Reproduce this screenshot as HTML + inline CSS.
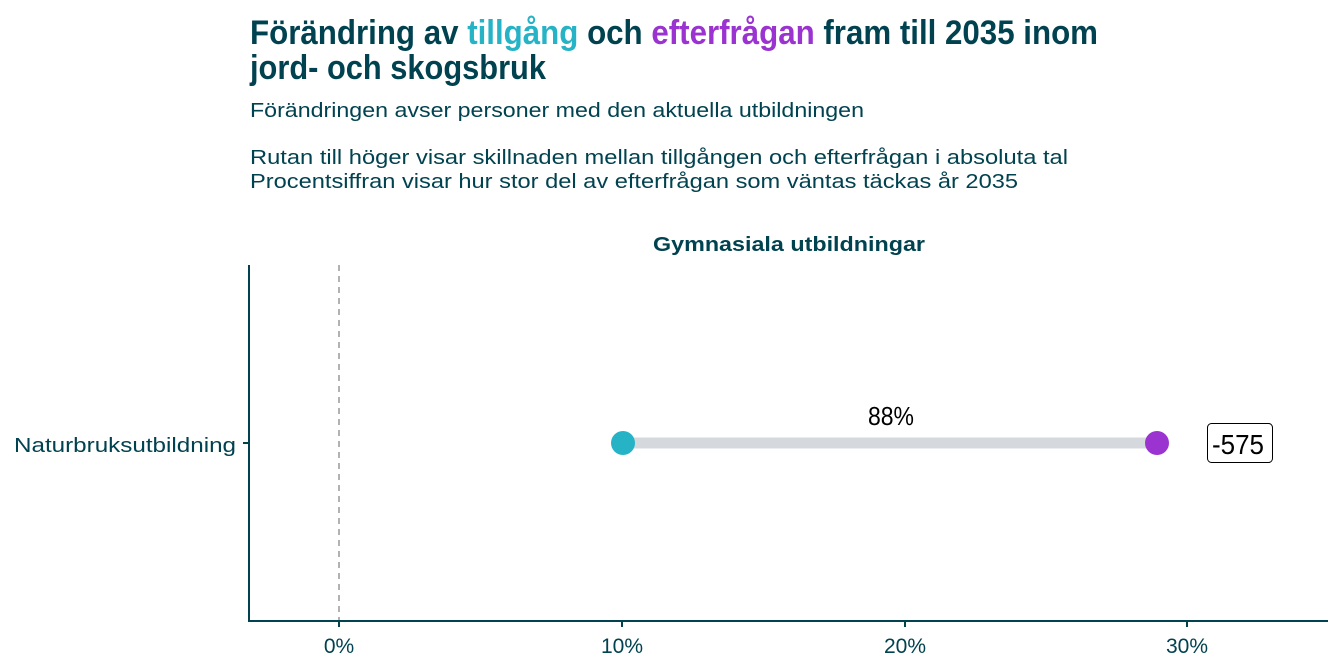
<!DOCTYPE html>
<html><head><meta charset="utf-8"><style>
html,body{margin:0;padding:0;background:#fff;}
svg{display:block;}
text{font-family:"Liberation Sans Narrow","Liberation Sans",sans-serif;}
</style></head><body>
<svg width="1344" height="672" viewBox="0 0 1344 672" xmlns="http://www.w3.org/2000/svg">
<text x="250" y="44" font-size="34" font-weight="bold" fill="#00424f" textLength="848" lengthAdjust="spacingAndGlyphs">Förändring av <tspan fill="#26b3c6">tillgång</tspan> och <tspan fill="#9a33cf">efterfrågan</tspan> fram till 2035 inom</text>
<text x="250" y="79" font-size="34" font-weight="bold" fill="#00424f" textLength="296" lengthAdjust="spacingAndGlyphs">jord- och skogsbruk</text>
<text x="250" y="117" font-size="20" fill="#00424f" textLength="614" lengthAdjust="spacingAndGlyphs">Förändringen avser personer med den aktuella utbildningen</text>
<text x="250" y="164" font-size="20" fill="#00424f" textLength="818" lengthAdjust="spacingAndGlyphs">Rutan till höger visar skillnaden mellan tillgången och efterfrågan i absoluta tal</text>
<text x="250" y="188" font-size="20" fill="#00424f" textLength="768" lengthAdjust="spacingAndGlyphs">Procentsiffran visar hur stor del av efterfrågan som väntas täckas år 2035</text>
<text x="789" y="251" font-size="20" font-weight="bold" fill="#00424f" text-anchor="middle" textLength="272" lengthAdjust="spacingAndGlyphs">Gymnasiala utbildningar</text>
<line x1="339" y1="265" x2="339" y2="621" stroke="#999" stroke-width="1.5" stroke-dasharray="6,5"/>
<line x1="249" y1="265" x2="249" y2="621" stroke="#00424f" stroke-width="2"/>
<line x1="248" y1="621" x2="1328" y2="621" stroke="#00424f" stroke-width="2"/>
<line x1="243" y1="443" x2="249" y2="443" stroke="#00424f" stroke-width="2"/>
<g stroke="#00424f" stroke-width="2">
<line x1="339" y1="621" x2="339" y2="627"/><line x1="622" y1="621" x2="622" y2="627"/><line x1="905" y1="621" x2="905" y2="627"/><line x1="1187" y1="621" x2="1187" y2="627"/>
</g>
<g font-size="21" fill="#00424f" text-anchor="middle">
<text x="339" y="653">0%</text><text x="622" y="653">10%</text><text x="905" y="653">20%</text><text x="1187" y="653">30%</text>
</g>
<text x="236" y="452" font-size="20" fill="#00424f" text-anchor="end" textLength="222" lengthAdjust="spacingAndGlyphs">Naturbruksutbildning</text>
<line x1="623" y1="443" x2="1157" y2="443" stroke="#d5d8dd" stroke-width="11"/>
<circle cx="623" cy="443" r="12" fill="#26b3c6"/>
<circle cx="1157" cy="443" r="12" fill="#9a33cf"/>
<text x="868" y="425" font-size="26" fill="#000" textLength="46" lengthAdjust="spacingAndGlyphs">88%</text>
<rect x="1207.5" y="423.5" width="65" height="39" rx="4" fill="#fff" stroke="#000" stroke-width="1"/>
<text x="1212" y="454" font-size="28" fill="#000" textLength="52" lengthAdjust="spacingAndGlyphs">-575</text>
</svg>
</body></html>
